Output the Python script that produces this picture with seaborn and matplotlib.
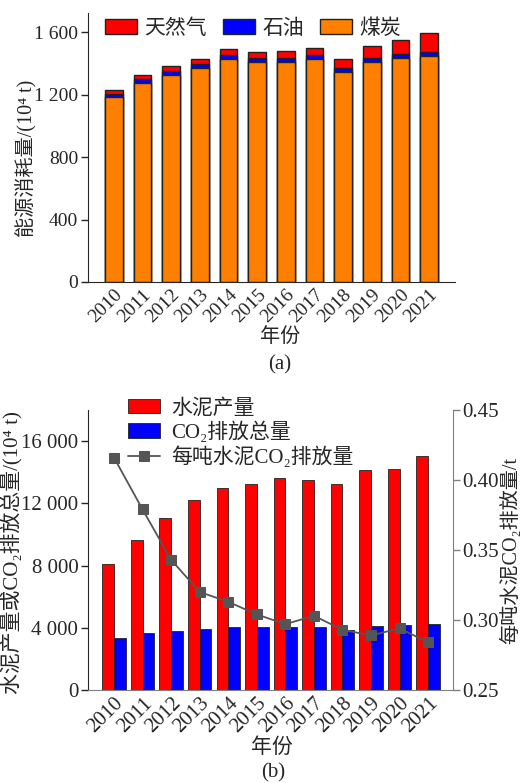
import matplotlib
matplotlib.use("Agg")
import matplotlib.pyplot as plt
import numpy as np
import pandas as pd
import seaborn as sns
from matplotlib.ticker import FuncFormatter

years = [str(y) for y in range(2010, 2022)]

# (a) energy use, 10^4 t
coal = [1183, 1275, 1324, 1371, 1427, 1410, 1410, 1427, 1345, 1407, 1433, 1448]
oil = [21, 25, 30, 28, 28, 25, 27, 28, 26, 28, 26, 28]
gas = [24, 28, 30, 32, 36, 37, 41, 47, 60, 79, 92, 118]

# (b) cement output and CO2, 10^4 t ; per tonne CO2, t
cement = [8086, 9613, 11032, 12237, 13011, 13247, 13613, 13527, 13269, 14172, 14237, 15032]
co2_total = [3355, 3634, 3785, 3914, 4065, 4022, 4022, 4065, 3871, 4086, 4194, 4258]
co2_per_t = [0.416, 0.379, 0.343, 0.320, 0.313, 0.304, 0.297, 0.303, 0.293, 0.289, 0.294, 0.284]

sns.set_style("ticks")
plt.rcParams["font.family"] = ["Liberation Serif", "Noto Sans CJK SC", "DejaVu Serif"]
plt.rcParams["axes.unicode_minus"] = False

W, H = 524, 783
fig = plt.figure(figsize=(W / 100, H / 100), dpi=100)

def space_thousands(v, pos):
    return f"{v:,.0f}".replace(",", " ")

# ---------- (a) stacked bars ----------
ax1 = fig.add_axes([88 / W, 1 - 282 / H, 367 / W, 269.3 / H])
energy = pd.DataFrame({"年份": years, "煤炭": coal, "石油": oil, "天然气": gas})
energy["coal_oil"] = energy["煤炭"] + energy["石油"]
energy["total"] = energy["coal_oil"] + energy["天然气"]

stack = [("total", "#ff0000"), ("coal_oil", "#0000ff"), ("煤炭", "#ff8000")]
for col, color in stack:
    sns.barplot(data=energy, x="年份", y=col, color=color, saturation=1,
                width=0.62, edgecolor="#222222", linewidth=1.0,
                errorbar=None, ax=ax1)

ax1.set_xlim(-0.9, 11.9)
ax1.set_ylim(0, 1725)
ax1.set_yticks([0, 400, 800, 1200, 1600])
ax1.yaxis.set_major_formatter(FuncFormatter(space_thousands))
sns.despine(ax=ax1)
ax1.tick_params(axis="y", direction="out", length=5, width=1, labelsize=14, pad=2)
ax1.tick_params(axis="x", length=0, labelsize=14, pad=3)
for lab in ax1.get_xticklabels():
    lab.set_rotation(45)
    lab.set_ha("right")
    lab.set_va("top")
    lab.set_rotation_mode("anchor")
ax1.set_xlabel("年份", fontsize=14.5)
ax1.xaxis.set_label_coords(0.523, -0.171)
ax1.set_ylabel("能源消耗量/(10⁴ t)", fontsize=14.5)
ax1.yaxis.set_label_coords(-0.138, 0.46)
ax1.legend(handles=[c.patches[0] for c in ax1.containers],
           labels=["天然气", "石油", "煤炭"], ncol=3, frameon=False,
           loc="upper left", bbox_to_anchor=(0.046, 0.975), borderpad=0,
           borderaxespad=0, handlelength=1.55, handletextpad=0.35,
           columnspacing=0.75, fontsize=15)
fig.text(280 / W, 1 - 365 / H, "(a)", ha="center", va="center", fontsize=15)

# ---------- (b) grouped bars + line ----------
ax3 = fig.add_axes([88 / W, 1 - 690 / H, 365 / W, 280 / H])
prod = pd.DataFrame({
    "年份": years * 2,
    "量": cement + co2_total,
    "类别": ["水泥产量"] * 12 + ["CO₂排放总量"] * 12,
})
sns.barplot(data=prod, x="年份", y="量", hue="类别",
            palette=["#ff0000", "#0000ff"], saturation=1, width=0.82,
            edgecolor="#222222", linewidth=0.6, errorbar=None,
            legend=False, ax=ax3)

ax4 = ax3.twinx()
sns.lineplot(x=np.arange(len(years)), y=co2_per_t, color="#555555",
             marker="s", markersize=6.5, markeredgecolor="#555555",
             linewidth=1.3, label="每吨水泥CO₂排放量", legend=False, ax=ax4)

ax3.set_xlim(-0.91, 11.87)
ax3.set_ylim(0, 18000)
ax3.set_yticks([0, 4000, 8000, 12000, 16000])
ax3.yaxis.set_major_formatter(FuncFormatter(space_thousands))
ax4.set_ylim(0.25, 0.45)
ax4.set_yticks([0.25, 0.30, 0.35, 0.40, 0.45])
ax4.yaxis.set_major_formatter(FuncFormatter(lambda v, p: f"{v:.2f}"))

ax3.spines["top"].set_visible(False)
ax3.spines["right"].set_visible(False)
ax3.spines["bottom"].set_color("#808080")
for s in ["top", "left", "bottom"]:
    ax4.spines[s].set_visible(False)
ax4.spines["right"].set_color("#808080")

ax3.tick_params(axis="y", direction="out", length=5, width=1, labelsize=15, pad=2)
ax3.tick_params(axis="x", length=0, labelsize=15, pad=3)
ax4.tick_params(axis="y", direction="out", length=5, width=1, color="#808080",
                labelsize=15, pad=2)
for lab in ax3.get_xticklabels():
    lab.set_rotation(45)
    lab.set_ha("right")
    lab.set_va("top")
    lab.set_rotation_mode("anchor")

ax3.set_xlabel("年份", fontsize=15)
ax3.xaxis.set_label_coords(0.504, -0.171)
ax3.set_ylabel("水泥产量或CO₂排放总量/(10⁴ t)", fontsize=15)
ax3.yaxis.set_label_coords(-0.178, 0.49)
ax4.set_ylabel("每吨水泥CO₂排放量/t", fontsize=14.5, rotation=90)
ax4.yaxis.set_label_coords(1.13, 0.5)

handles = [ax3.containers[0].patches[0], ax3.containers[1].patches[0], ax4.lines[0]]
labels = ["水泥产量", "CO₂排放总量", "每吨水泥CO₂排放量"]
ax4.legend(handles=handles, labels=labels, frameon=False, loc="upper left",
           bbox_to_anchor=(0.1096, 1.04), borderpad=0, borderaxespad=0,
           handlelength=1.55, handletextpad=0.5, labelspacing=0.15, fontsize=15)
fig.text(273 / W, 1 - 773 / H, "(b)", ha="center", va="center", fontsize=15)

fig.savefig("out.png", dpi=100)
